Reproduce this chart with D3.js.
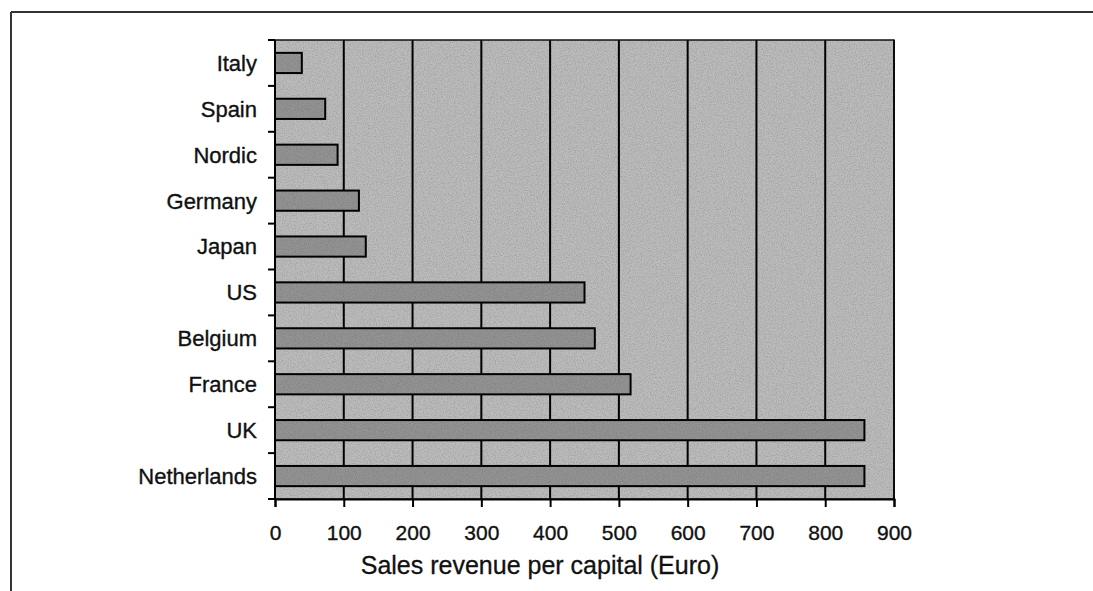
<!DOCTYPE html>
<html>
<head>
<meta charset="utf-8">
<script src="https://cdn.jsdelivr.net/npm/d3@7"></script>
<style>
  html, body { margin: 0; padding: 0; background: #ffffff; }
  svg { display: block; font-family: "Liberation Sans", Arial, Helvetica, sans-serif; }
</style>
</head>
<body>
<svg id="chart" width="1093" height="591"></svg>
<script>
// Data (top to bottom)
const categories = ["Italy", "Spain", "Nordic", "Germany", "Japan", "US", "Belgium", "France", "UK", "Netherlands"];
const values = [39, 73, 91, 122, 132, 450, 465, 517, 857, 857];
const xTicks = [0, 100, 200, 300, 400, 500, 600, 700, 800, 900];
const xTitle = "Sales revenue per capital (Euro)";

const svg = d3.select("#chart");
const W = 1093, H = 591;
const plot = { left: 275, right: 894, top: 40, bottom: 499 };

// Noise texture filter to imitate the printed halftone
const defs = svg.append("defs");
const f = defs.append("filter").attr("id", "grain").attr("x", 0).attr("y", 0).attr("width", 1).attr("height", 1);
f.append("feTurbulence").attr("type", "fractalNoise").attr("baseFrequency", 0.85).attr("numOctaves", 2).attr("seed", 3).attr("result", "noise");
f.append("feColorMatrix").attr("in", "noise").attr("type", "matrix")
  .attr("values", "0 0 0 0 0  0 0 0 0 0  0 0 0 0 0  0 0 0 -1.4 0.85").attr("result", "dark");
f.append("feComposite").attr("in", "dark").attr("in2", "SourceGraphic").attr("operator", "in");

// Outer frame (top and left lines)
svg.append("line").attr("x1", 11).attr("x2", W).attr("y1", 12).attr("y2", 12)
  .attr("stroke", "#333").attr("stroke-width", 2);
svg.append("line").attr("x1", 11).attr("x2", 11).attr("y1", 12).attr("y2", H)
  .attr("stroke", "#333").attr("stroke-width", 2);

const x = d3.scaleLinear().domain([0, 900]).range([plot.left, plot.right]);
const y = d3.scaleBand().domain(categories).range([plot.top, plot.bottom]).padding(0);
const barFrac = 0.44;

// Plot background
svg.append("rect").attr("x", plot.left).attr("y", plot.top)
  .attr("width", plot.right - plot.left).attr("height", plot.bottom - plot.top)
  .attr("fill", "#bcbcbc");
svg.append("rect").attr("x", plot.left).attr("y", plot.top)
  .attr("width", plot.right - plot.left).attr("height", plot.bottom - plot.top)
  .attr("fill", "#ffffff").attr("opacity", 0.22).attr("filter", "url(#grain)");

// Vertical gridlines
svg.append("g").selectAll("line").data(xTicks.slice(1)).join("line")
  .attr("x1", d => x(d)).attr("x2", d => x(d))
  .attr("y1", plot.top).attr("y2", plot.bottom)
  .attr("stroke", "#000").attr("stroke-width", 2);

// Bars
const bars = svg.append("g");
bars.selectAll("rect.bar").data(categories).join("rect").attr("class", "bar")
  .attr("x", x(0))
  .attr("y", d => y(d) + y.bandwidth() * (1 - barFrac) / 2)
  .attr("width", (d, i) => x(values[i]) - x(0))
  .attr("height", y.bandwidth() * barFrac)
  .attr("fill", "#939393").attr("stroke", "#000").attr("stroke-width", 2);
bars.selectAll("rect.grain").data(categories).join("rect").attr("class", "grain")
  .attr("x", x(0))
  .attr("y", d => y(d) + y.bandwidth() * (1 - barFrac) / 2 + 1)
  .attr("width", (d, i) => x(values[i]) - x(0) - 1)
  .attr("height", y.bandwidth() * barFrac - 2)
  .attr("fill", "#fff").attr("opacity", 0.18).attr("filter", "url(#grain)");

// Plot border
svg.append("rect").attr("x", plot.left).attr("y", plot.top)
  .attr("width", plot.right - plot.left).attr("height", plot.bottom - plot.top)
  .attr("fill", "none").attr("stroke", "#111").attr("stroke-width", 1.5);

// X axis
const xAxis = d3.axisBottom(x).tickValues(xTicks).tickSize(8).tickPadding(18).tickFormat(d3.format("d"));
const gx = svg.append("g").attr("transform", `translate(0,${plot.bottom})`).call(xAxis);
gx.select(".domain").attr("stroke", "#000").attr("stroke-width", 2);
gx.selectAll(".tick line").attr("stroke", "#000").attr("stroke-width", 2);
gx.selectAll(".tick text").attr("font-size", 21).attr("fill", "#111")
  .attr("stroke", "#111").attr("stroke-width", 0.35)
  .attr("font-family", "'Liberation Sans', Arial, sans-serif");

// Y axis: ticks at band boundaries, labels at band centres
const boundaries = categories.map(c => y(c)).concat([plot.bottom]);
svg.append("g").selectAll("line").data(boundaries).join("line")
  .attr("x1", plot.left - 7).attr("x2", plot.left)
  .attr("y1", d => d).attr("y2", d => d)
  .attr("stroke", "#000").attr("stroke-width", 2);
svg.append("line").attr("x1", plot.left).attr("x2", plot.left)
  .attr("y1", plot.top).attr("y2", plot.bottom).attr("stroke", "#000").attr("stroke-width", 2);
svg.append("g").selectAll("text").data(categories).join("text")
  .attr("x", plot.left - 18)
  .attr("y", d => y(d) + y.bandwidth() / 2)
  .attr("dy", "0.36em")
  .attr("text-anchor", "end")
  .attr("font-size", 22).attr("fill", "#111")
  .attr("stroke", "#111").attr("stroke-width", 0.35)
  .text(d => d);

// X title
svg.append("text").attr("x", 540).attr("y", 574)
  .attr("text-anchor", "middle").attr("font-size", 25).attr("fill", "#111")
  .attr("stroke", "#111").attr("stroke-width", 0.3)
  .text(xTitle);
</script>
</body>
</html>
